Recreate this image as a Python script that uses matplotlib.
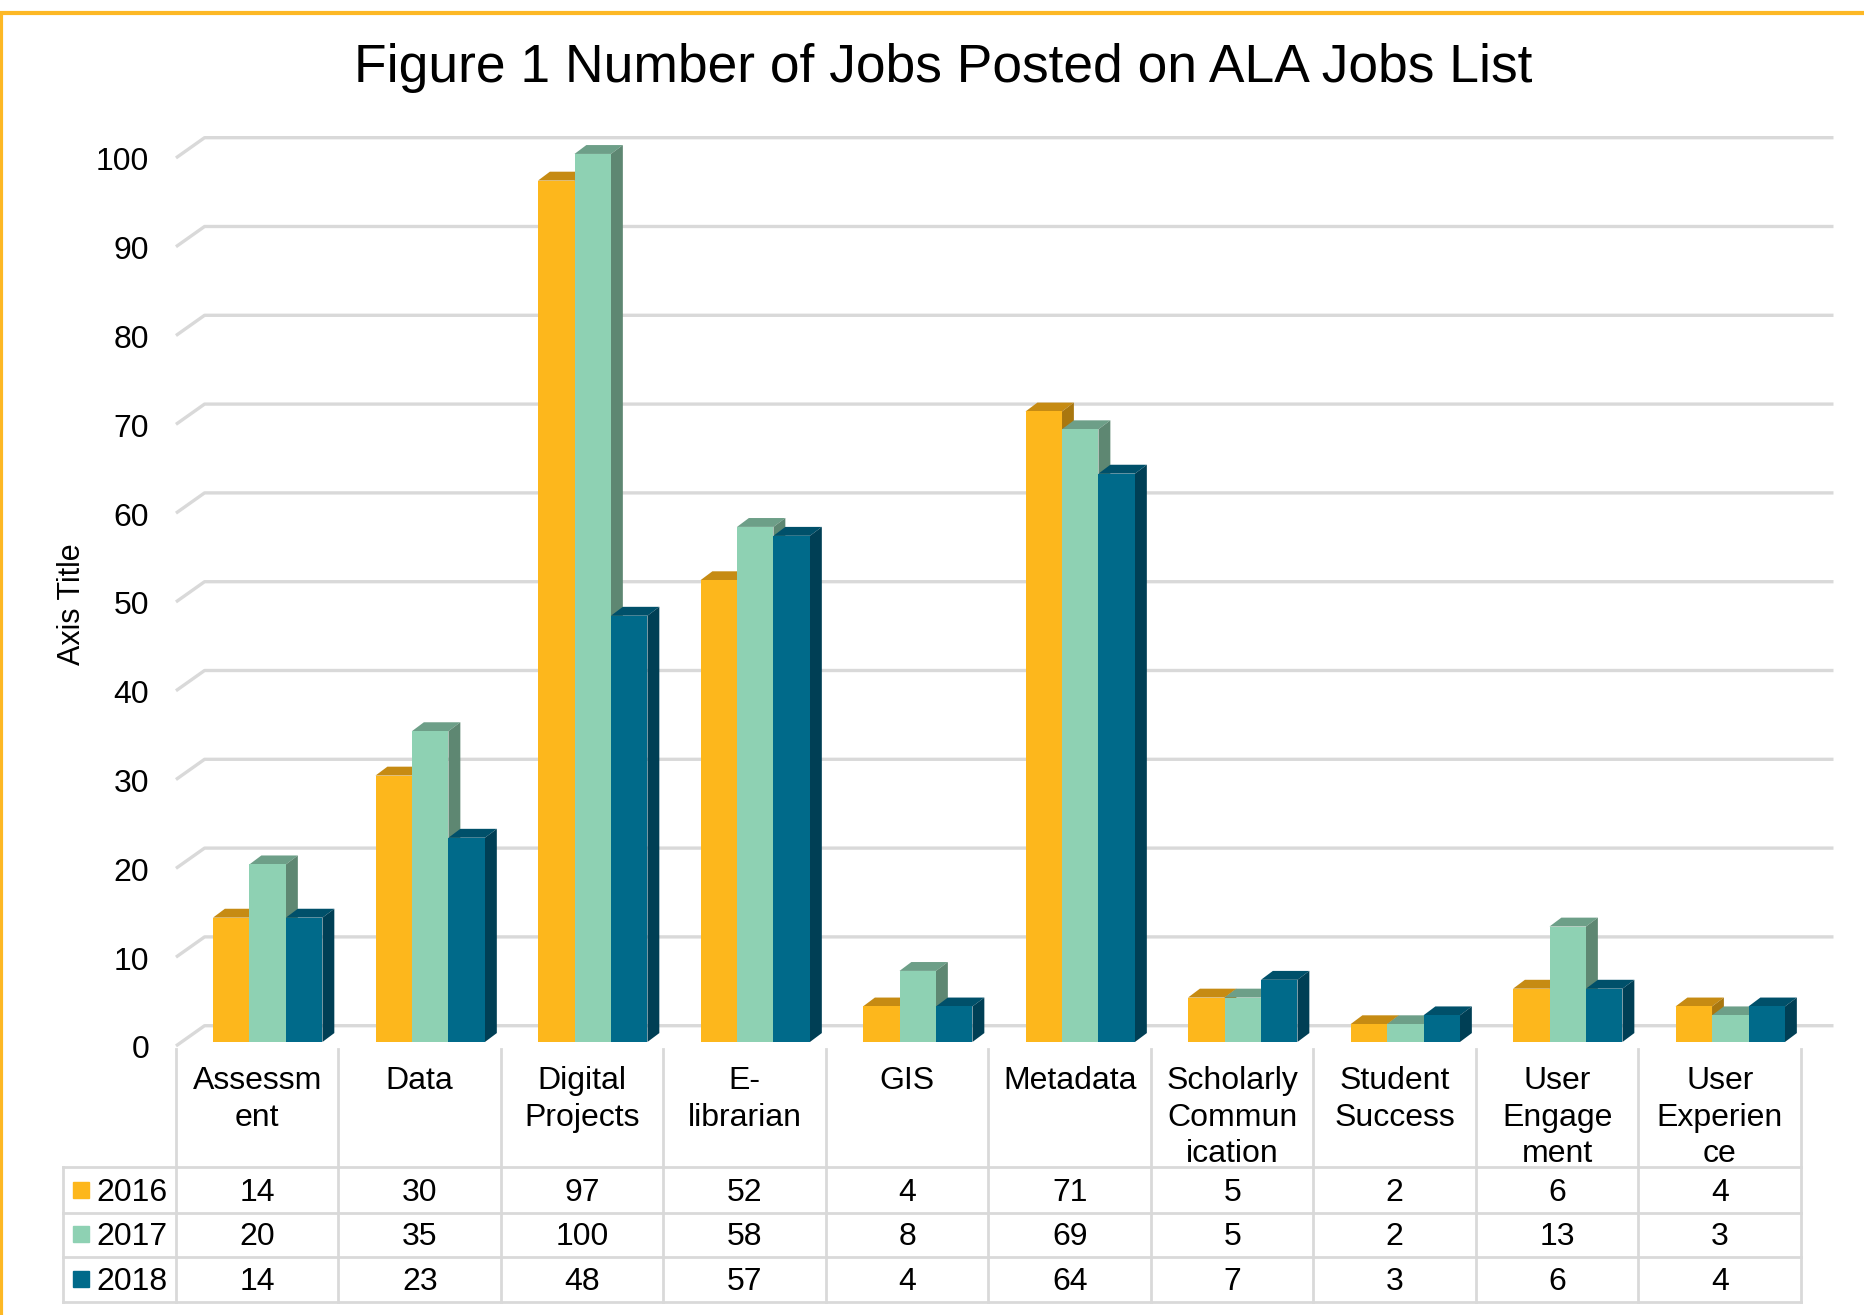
import matplotlib.pyplot as plt
from matplotlib.patches import Polygon, Rectangle
import numpy as np

plt.rcParams['font.family'] = ['Liberation Sans', 'DejaVu Sans']

categories = ['Assessm\nent', 'Data', 'Digital\nProjects', 'E-\nlibrarian', 'GIS',
              'Metadata', 'Scholarly\nCommun\nication', 'Student\nSuccess',
              'User\nEngage\nment', 'User\nExperien\nce']
years = ['2016', '2017', '2018']
jobs_2016 = [14, 30, 97, 52, 4, 71, 5, 2, 6, 4]
jobs_2017 = [20, 35, 100, 58, 8, 69, 5, 2, 13, 3]
jobs_2018 = [14, 23, 48, 57, 4, 64, 7, 3, 6, 4]
y_ticks = [0, 10, 20, 30, 40, 50, 60, 70, 80, 90, 100]

series = [jobs_2016, jobs_2017, jobs_2018]
# front, top, side shades
colors = [('#FDB71C', '#C68B13', '#A9770F'),
          ('#8ED1B3', '#6D9F88', '#5E8772'),
          ('#006A8A', '#00506A', '#003F55')]

fig = plt.figure(figsize=(18.64, 13.15), dpi=100)
ax = fig.add_axes([0.0944, 0.2046, 0.8718, 0.6753])
ax.set_xlim(0, 10)
ax.set_ylim(0, 100)
ax.axis('off')

# wall depth and bar geometry (data units)
DX, DY = 0.176, 2.28
bw, bx0, base = 0.2245, 0.228, 0.45
bdx, bdy = 0.073, 1.0
grid_c = '#D9D9D9'
txt_dy = -0.5  # nudge text centres down a little

for t in y_ticks:
    ax.plot([0, DX, 10.2], [t, t + DY, t + DY], color=grid_c, lw=2.4,
            clip_on=False, zorder=1, solid_capstyle='butt')
    ax.text(-0.165, t + txt_dy, str(t), ha='right', va='center', fontsize=23)

n = len(categories)
for j, vals in enumerate(series):
    fc, tc, sc = colors[j]
    xs = np.arange(n) + bx0 + j * bw
    ax.bar(xs, vals, width=bw, bottom=base, align='edge', color=fc,
           edgecolor='none', zorder=3 + 2 * j, clip_on=False)
    for x, v in zip(xs, vals):
        top = base + v
        ax.add_patch(Polygon([[x, top], [x + bdx, top + bdy], [x + bw + bdx, top + bdy], [x + bw, top]],
                             closed=True, color=tc, lw=0, zorder=2 + 2 * j, clip_on=False))
        ax.add_patch(Polygon([[x + bw, base], [x + bw + bdx, base + bdy], [x + bw + bdx, top + bdy], [x + bw, top]],
                             closed=True, color=sc, lw=0, zorder=2 + 2 * j, clip_on=False))

# data table
row_lines = [-13.6, -18.8, -23.8, -28.8]
row_mid = [-16.2, -21.2, -26.2]
head_lines = [-3.5, -7.6, -11.7]
leg_x = -0.695
for k in range(n + 1):
    ax.plot([k, k], [-0.3, row_lines[-1]], color=grid_c, lw=2, clip_on=False)
ax.plot([leg_x, leg_x], [row_lines[0], row_lines[-1]], color=grid_c, lw=2, clip_on=False)
for yl in row_lines:
    ax.plot([leg_x, n], [yl, yl], color=grid_c, lw=2, clip_on=False)

for i, cat in enumerate(categories):
    for li, line in enumerate(cat.split('\n')):
        ax.text(i + 0.5, head_lines[li] + txt_dy, line, ha='center', va='center', fontsize=23)
    for j, vals in enumerate(series):
        ax.text(i + 0.5, row_mid[j] + txt_dy * 0.7, str(vals[i]), ha='center', va='center', fontsize=23)

for j, yr in enumerate(years):
    ax.plot([-0.585], [row_mid[j]], marker='s', ms=11, color=colors[j][0],
            clip_on=False, lw=0)
    ax.text(-0.49, row_mid[j] + txt_dy * 0.7, yr, ha='left', va='center', fontsize=23)

ax.text(-0.64, 49.8, 'Axis Title', rotation=90, ha='center', va='center', fontsize=22)

fig.text(0.506, 0.948, 'Figure 1 Number of Jobs Posted on ALA Jobs List',
         ha='center', va='center', fontsize=38.4)

fig.add_artist(Rectangle((0.7 / 1864, -0.5), 2, 0.5 + 1 - 13 / 1315,
                         transform=fig.transFigure, fill=False,
                         edgecolor='#FDB825', lw=3))

fig.savefig('out.png', dpi=100)
